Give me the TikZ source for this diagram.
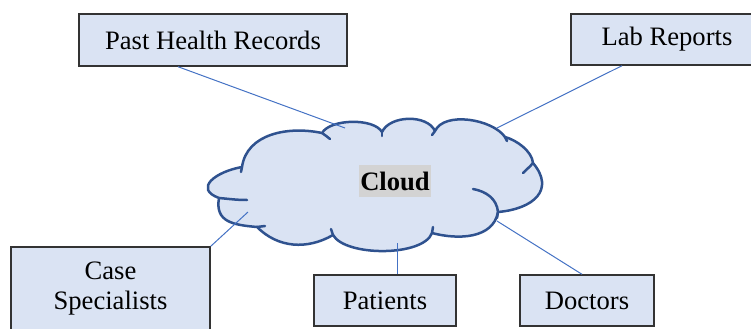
\documentclass[tikz,border=0pt]{standalone}
\usepackage{fontspec}
\setmainfont{Liberation Serif}
\definecolor{boxfill}{HTML}{DAE3F3}
\definecolor{cloudedge}{HTML}{2F528F}
\definecolor{linkblue}{HTML}{4472C4}
\definecolor{tagfill}{HTML}{D3D3D3}
\begin{document}
\begin{tikzpicture}[x=0.5pt,y=0.5pt,
  box/.style = {draw=black!80,line width=0.7pt,fill=boxfill,inner sep=0pt,
                align=center,font=\fontsize{13.3}{15}\selectfont},
  link/.style = {linkblue,line width=0.5pt},
  puff/.style = {cloudedge,line width=1.25pt,line cap=round,line join=round}]
\useasboundingbox (0,0) rectangle (751,328);

\filldraw[puff,fill=boxfill] (219,130)
  to[out=160,in=190,looseness=1.8] (242,161)
  to[out=82,in=168] (322,195)
  to[out=60,in=120,looseness=0.7] (382,196)
  to[out=65,in=115,looseness=0.9] (435,197)
  to[out=65,in=125,looseness=0.8] (505,191)
  to[out=-15,in=95,looseness=0.8] (533,165)
  to[out=-50,in=5,looseness=1.5] (498,116)
  to[out=-100,in=-15] (432,95)
  to[out=-110,in=-60,looseness=0.65] (333,93)
  to[out=-150,in=-45] (257,101)
  to[out=175,in=-100,looseness=1.3] (219,130) -- cycle;
\draw[puff] (242,161) -- (241,156);
\draw[puff] (322,195) to[out=-25,in=150] (330,189);
\draw[puff] (382,196) -- (382,192);
\draw[puff] (435,197) -- (432,193);
\draw[puff] (505,191) -- (507,187);
\draw[puff] (533,165) to[out=-130,in=45] (523,155);
\draw[puff] (473,139) to[out=-10,in=95] (498,116) -- (497,110);
\draw[puff] (432,95) -- (433,101);
\draw[puff] (333,93) -- (331,99);
\draw[puff] (257,101) -- (265,102);
\draw[puff] (219,130) to[out=-5,in=180] (247,128);

\node[fill=tagfill,inner sep=0.5pt,minimum height=16pt,
      font=\fontsize{13.3}{15}\selectfont\bfseries] (cloud) at (395,147) {Cloud};

\node[box,minimum width=134pt,minimum height=26pt] (records) at (213,288) {Past Health Records};
\node[box,minimum width=96pt,minimum height=25.5pt] (lab) at (667,288.5) {Lab Reports};
\node[box,minimum width=99.5pt,minimum height=41.5pt] (cases) at (110.5,39.5) {Case\\Specialists};
\node[box,minimum width=71pt,minimum height=25.5pt] (patients) at (385,27.5) {Patients};
\node[box,minimum width=67pt,minimum height=25.5pt] (doctors) at (587,27.5) {Doctors};

\coordinate (recordsend) at (345,200);
\coordinate (labend) at (497,200);
\coordinate (casesend) at (248,116);
\coordinate (patientsend) at (397,85);
\coordinate (doctorsend) at (497,107);

\draw[link] ([xshift=-17.5pt]records.south) -- (recordsend);
\draw[link] ([xshift=-22.5pt]lab.south) -- (labend);
\draw[link] (cases.north east) -- (casesend);
\draw[link] ([xshift=6pt]patients.north) -- (patientsend);
\draw[link] ([xshift=-2.5pt]doctors.north) -- (doctorsend);
\end{tikzpicture}
\end{document}
